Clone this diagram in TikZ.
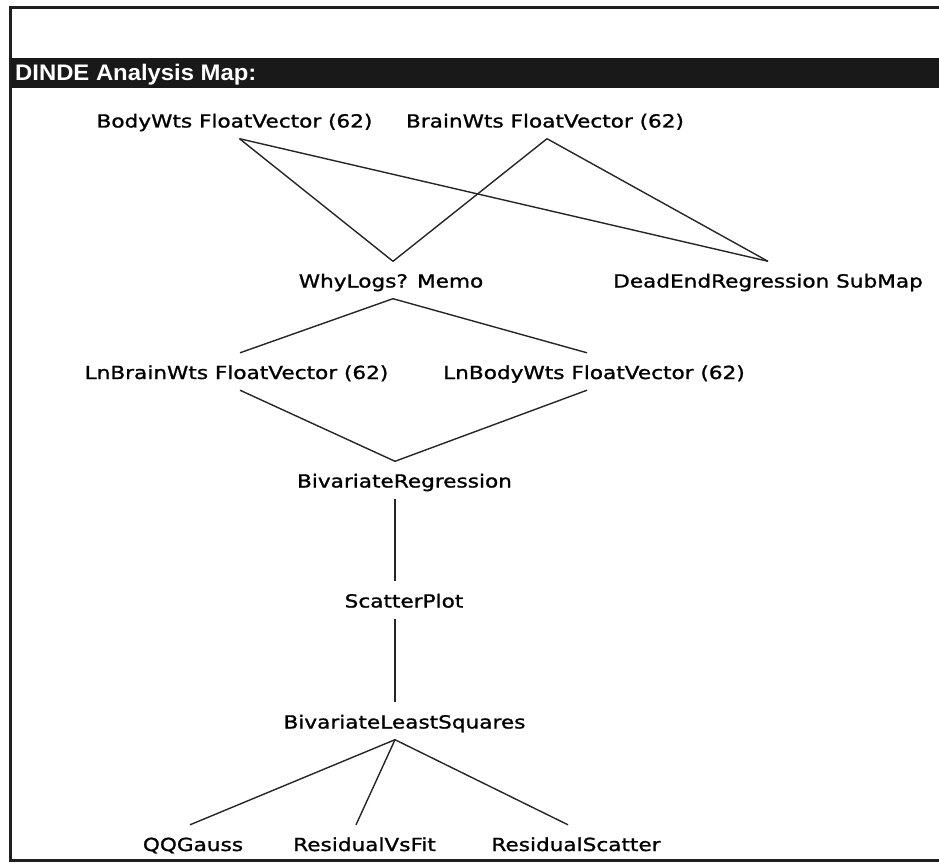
\documentclass[tikz,border=0pt]{standalone}
\usepackage{fontspec}
\newfontfamily\labfont[FakeStretch=1.2,FakeBold=1.2]{DejaVu Sans}
\newfontfamily\titlefont[FakeStretch=1.06]{Liberation Sans}
\begin{document}
\begin{tikzpicture}[x=1pt,y=-1pt,
  lab/.style={font=\labfont\fontsize{18}{20}\selectfont, anchor=base, inner xsep=0pt, inner ysep=7pt, text height=19pt, text depth=4pt, text=black},
  link/.style={draw=black!85, line width=1.4pt},
  frameline/.style={draw=black!88, line width=3pt}]
\useasboundingbox (0,0) rectangle (939,864);
\fill[white] (0,0) rectangle (939,864);
% window frame
\draw[frameline] (939,8) -- (10.5,8) -- (10.5,860) -- (939,860);
\fill[black!90] (10.5,58) rectangle (939,88);
\node[anchor=base west, inner sep=0pt, text=white, font=\titlefont\bfseries\fontsize{22.5}{24}\selectfont] (title) at (15,81) {DINDE Analysis Map:};
% nodes
\node[lab] (body) at (234.5,127.5) {BodyWts FloatVector (62)};
\node[lab] (brain) at (545,127.5) {BrainWts FloatVector (62)};
\node[lab] (why) at (391,287.5) {WhyLogs? Memo};
\node[lab] (dead) at (768,287.5) {DeadEndRegression SubMap};
\node[lab] (lnbrain) at (236.5,379) {LnBrainWts FloatVector (62)};
\node[lab] (lnbody) at (594,379) {LnBodyWts FloatVector (62)};
\node[lab] (bivreg) at (404.5,487.5) {BivariateRegression};
\node[lab] (scatter) at (404,607.5) {ScatterPlot};
\node[lab] (bls) at (404.5,728.5) {BivariateLeastSquares};
\node[lab] (qq) at (193,851) {QQGauss};
\node[lab] (rvf) at (364.5,851) {ResidualVsFit};
\node[lab] (rs) at (576,851) {ResidualScatter};
% connectors
\draw[link] ([xshift=5pt]body.south) -- ([xshift=2pt]why.north);
\draw[link] ([xshift=5pt]body.south) -- (dead.north);
\draw[link] ([xshift=2pt]brain.south) -- ([xshift=2pt]why.north);
\draw[link] ([xshift=2pt]brain.south) -- (dead.north);
\draw[link] ([xshift=2pt]why.south) -- ([xshift=3.5pt]lnbrain.north);
\draw[link] ([xshift=2pt]why.south) -- ([xshift=-7pt]lnbody.north);
\draw[link] ([xshift=3.5pt]lnbrain.south) -- ([xshift=-9.5pt]bivreg.north);
\draw[link] ([xshift=-7pt]lnbody.south) -- ([xshift=-9.5pt]bivreg.north);
\draw[link] ([xshift=-9.5pt]bivreg.south) -- ([xshift=-9pt]scatter.north);
\draw[link] ([xshift=-9pt]scatter.south) -- ([xshift=-9.5pt]bls.north);
\draw[link] ([xshift=-9.5pt]bls.south) -- ([xshift=-3pt]qq.north);
\draw[link] ([xshift=-9.5pt]bls.south) -- ([xshift=-8.5pt]rvf.north);
\draw[link] ([xshift=-9.5pt]bls.south) -- ([xshift=-8pt]rs.north);
\end{tikzpicture}
\end{document}
